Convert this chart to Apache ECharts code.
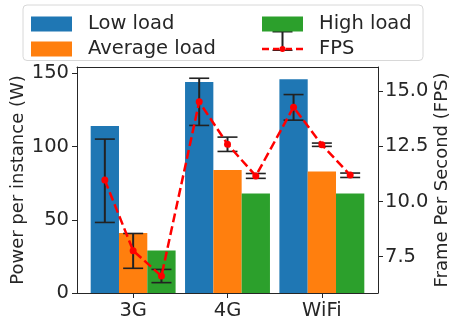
<!DOCTYPE html>
<html><head><meta charset="utf-8">
<script src="https://cdn.jsdelivr.net/npm/echarts@6/dist/echarts.min.js"></script>
<style>html,body{margin:0;padding:0;background:#fff}#c{width:450px;height:322px}</style>
</head><body><div id="c"></div>
<script>
var categories = ['3G', '4G', 'WiFi'];
var loadNames = ['Low load', 'Average load', 'High load'];
var lowLoad = [114, 144, 146];
var averageLoad = [41, 84, 83];
var highLoad = [29, 68, 68];
// FPS per (network, load) in order: 3G low/avg/high, 4G ..., WiFi ...
var fpsMean = [10.97, 7.77, 6.62, 14.52, 12.6, 11.16, 14.28, 12.57, 11.2];
var fpsLow  = [9.05, 6.97, 6.32, 13.45, 12.27, 11.05, 13.69, 12.5, 11.09];
var fpsHigh = [12.83, 8.55, 6.92, 15.59, 12.92, 11.27, 14.85, 12.65, 11.29];
var powerTicks = [0, 50, 100, 150];
var fpsTicks = [7.5, 10, 12.5, 15];

var colors = ['#1f77b4', '#ff7f0e', '#2ca02c'];
var barFrac = 0.3; // bar width in category units
var FONT = 'DejaVu Sans';
var TXT = '#262626';

function barData(arr) { return arr.map(function (v, i) { return [i, v]; }); }
var fpsPts = [], errPts = [];
for (var i = 0; i < categories.length; i++) {
  for (var j = 0; j < 3; j++) {
    var k = i * 3 + j;
    var x = i + (j - 1) * barFrac;
    fpsPts.push([x, fpsMean[k]]);
    errPts.push([x, fpsLow[k], fpsHigh[k]]);
  }
}

var chart = echarts.init(document.getElementById('c'), null, {renderer: 'canvas'});
var axisLineStyle = {color: '#262626', width: 1};
var option = {
  backgroundColor: '#fff',
  animation: false,
  textStyle: {fontFamily: FONT},
  graphic: [{
    type: 'rect', z: 0,
    shape: {x: 23, y: 5, width: 400, height: 55.5, r: 4},
    style: {fill: '#fff', stroke: '#d8d8d8', lineWidth: 1}
  }],
  legend: [{
    left: 31, top: 14, orient: 'vertical', padding: 0,
    itemWidth: 41, itemHeight: 15, itemGap: 5, selectedMode: false,
    icon: 'rect',
    data: ['Low load', 'Average load'],
    textStyle: {fontFamily: FONT, fontSize: 19.5, color: TXT, lineHeight: 15, padding: [0, 0, 0, 11]}
  }, {
    left: 262, top: 14, orient: 'vertical', padding: 0,
    itemWidth: 41, itemHeight: 15, itemGap: 5, selectedMode: false,
    data: [
      {name: 'High load', icon: 'rect'},
      {name: 'FPS', icon: 'path://M0 1.75h7v2.5h-7z M11 1.75h7v2.5h-7z M23 1.75h7v2.5h-7z M34 1.75h7v2.5h-7z M17.5 3a3 3 0 1 0 6 0a3 3 0 1 0 -6 0z', itemStyle: {color: '#ff0000'}}
    ],
    textStyle: {fontFamily: FONT, fontSize: 19.5, color: TXT, lineHeight: 15, padding: [0, 0, 0, 11]}
  }, {
    left: 262, top: 31, orient: 'vertical', padding: 0, z: 3,
    itemWidth: 41, itemHeight: 20, selectedMode: false,
    data: [{name: 'FPS', icon: 'path://M0 0h20v1.6h-20z M0 18.4h20v1.6h-20z M9 0h2v20h-2z', itemStyle: {color: '#222222'}}],
    formatter: function () { return ''; },
    textStyle: {fontSize: 1}
  }],
  grid: {left: 77, right: 72, top: 67, bottom: 29, outerBoundsMode: 'none', containLabel: false},
  xAxis: [{
    type: 'value', min: -0.595, max: 2.595, position: 'bottom',
    axisLine: {show: true, onZero: false, lineStyle: axisLineStyle},
    axisTick: {show: true, length: 5, lineStyle: axisLineStyle, customValues: [0, 1, 2]},
    axisLabel: {customValues: [0, 1, 2], margin: 8, color: TXT, fontFamily: FONT, fontSize: 19.5,
      formatter: function (v) { return categories[Math.round(v)]; }},
    splitLine: {show: false}
  }, {
    type: 'value', min: -0.595, max: 2.595, position: 'top',
    axisLine: {show: true, onZero: false, lineStyle: axisLineStyle},
    axisTick: {show: false}, axisLabel: {show: false}, splitLine: {show: false}
  }],
  yAxis: [{
    type: 'value', min: 0, max: 154.3, position: 'left',
    name: 'Power per instance (W)', nameLocation: 'middle', nameRotate: 90, nameGap: 50,
    nameMoveOverlap: false,
    nameTextStyle: {fontFamily: FONT, fontSize: 18, color: TXT},
    axisLine: {show: true, onZero: false, lineStyle: axisLineStyle},
    axisTick: {show: true, length: 5, lineStyle: axisLineStyle, customValues: powerTicks},
    axisLabel: {customValues: powerTicks, margin: 8, color: TXT, fontFamily: FONT, fontSize: 19.5},
    splitLine: {show: false}
  }, {
    type: 'value', min: 5.85, max: 16.1, position: 'right',
    name: 'Frame Per Second (FPS)', nameLocation: 'middle', nameRotate: 90, nameGap: 55,
    nameMoveOverlap: false,
    nameTextStyle: {fontFamily: FONT, fontSize: 18, color: TXT},
    axisLine: {show: true, onZero: false, lineStyle: axisLineStyle},
    axisTick: {show: true, length: 5, lineStyle: axisLineStyle, customValues: fpsTicks},
    axisLabel: {customValues: fpsTicks, margin: 7, color: TXT, fontFamily: FONT, fontSize: 19.5,
      formatter: function (v) { return v.toFixed(1); }},
    splitLine: {show: false}
  }],
  series: [
    {name: 'Low load', type: 'bar', data: barData(lowLoad), itemStyle: {color: colors[0]}, barGap: '0%', barCategoryGap: '10%'},
    {name: 'Average load', type: 'bar', data: barData(averageLoad), itemStyle: {color: colors[1]}, barGap: '0%', barCategoryGap: '10%'},
    {name: 'High load', type: 'bar', data: barData(highLoad), itemStyle: {color: colors[2]}, barGap: '0%', barCategoryGap: '10%'},
    {
      name: 'FPS err', type: 'custom', xAxisIndex: 0, yAxisIndex: 1, z: 5,
      data: errPts, encode: {x: 0, y: [1, 2]},
      renderItem: function (params, api) {
        var lo = api.coord([api.value(0), api.value(1)]);
        var hi = api.coord([api.value(0), api.value(2)]);
        var hw = 10;
        var st = {stroke: '#222222', lineWidth: 2};
        var cst = {stroke: '#222222', lineWidth: 1.6};
        return {type: 'group', children: [
          {type: 'line', shape: {x1: lo[0], y1: lo[1], x2: hi[0], y2: hi[1]}, style: st},
          {type: 'line', shape: {x1: lo[0] - hw, y1: lo[1], x2: lo[0] + hw, y2: lo[1]}, style: cst},
          {type: 'line', shape: {x1: hi[0] - hw, y1: hi[1], x2: hi[0] + hw, y2: hi[1]}, style: cst}
        ]};
      }
    },
    {
      name: 'FPS', type: 'line', xAxisIndex: 0, yAxisIndex: 1, z: 6,
      data: fpsPts, symbol: 'circle', symbolSize: 7,
      lineStyle: {color: '#ff0000', width: 2.5, type: [9, 4]},
      itemStyle: {color: '#ff0000'}
    }
  ]
};
chart.setOption(option);
</script></body></html>
